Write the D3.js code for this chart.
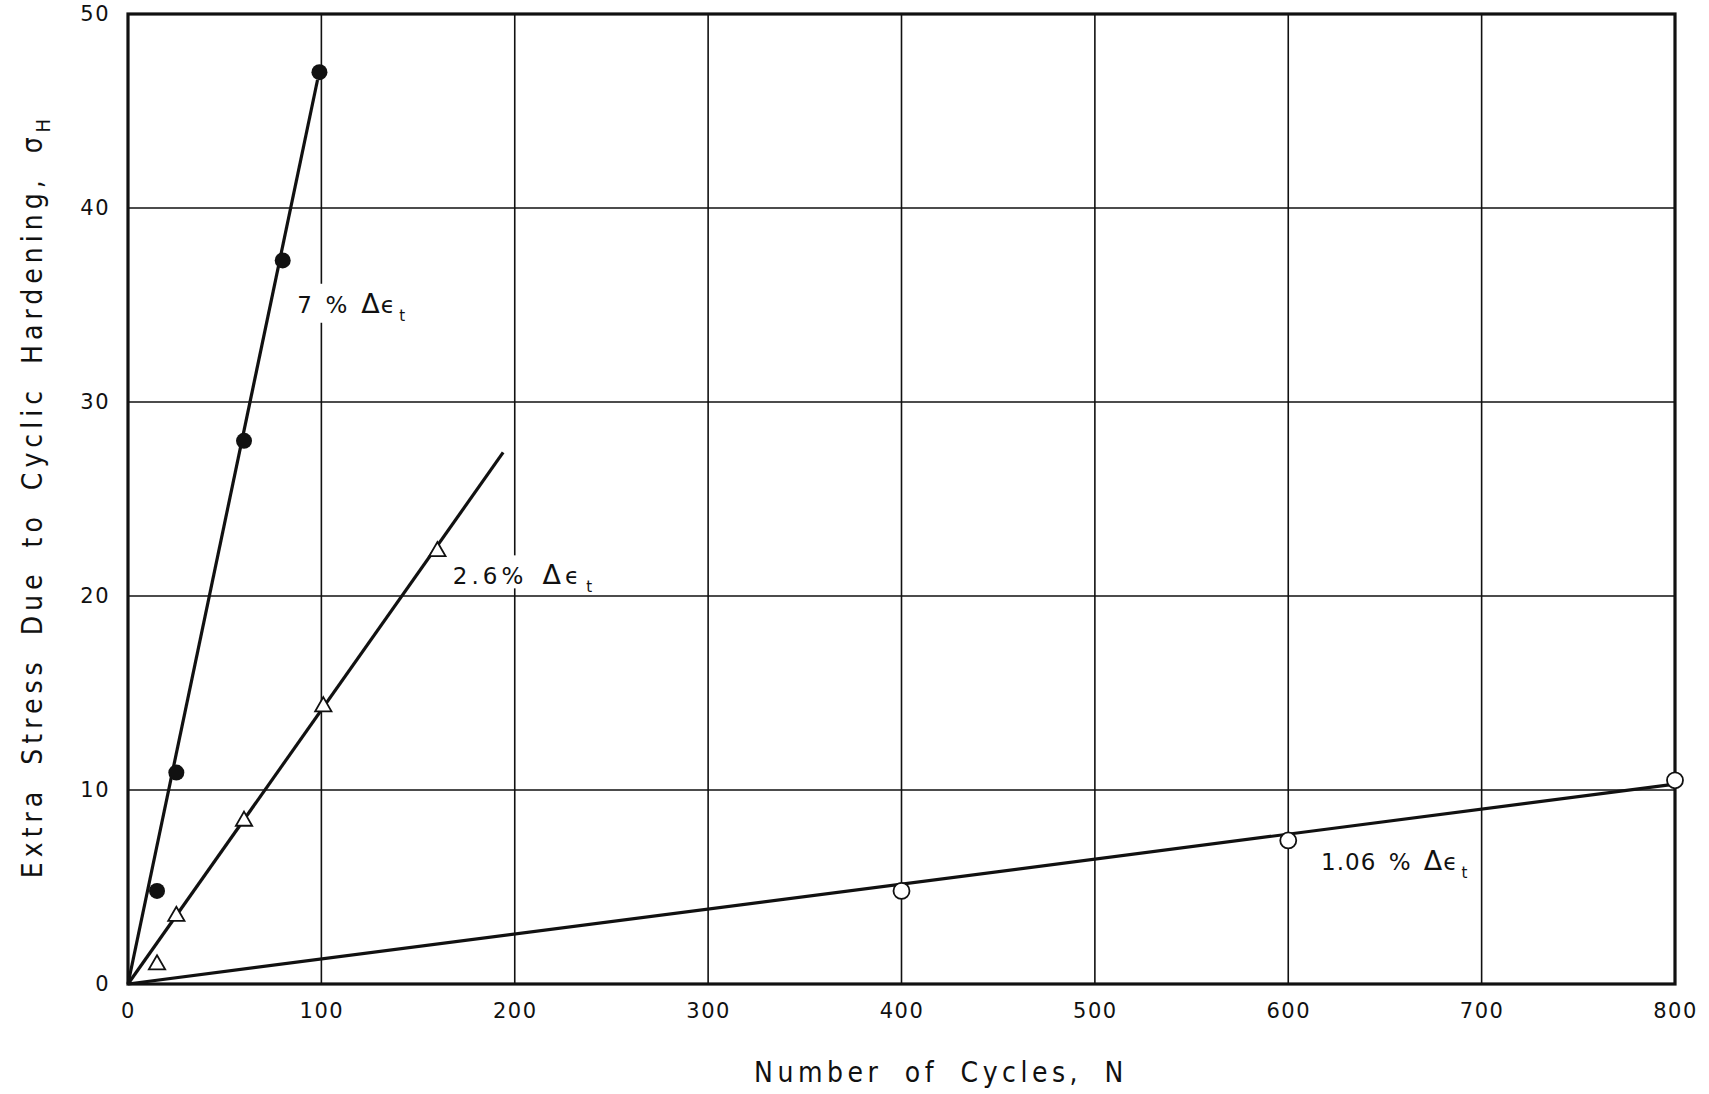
<!DOCTYPE html>
<html>
<head>
<meta charset="utf-8">
<script src="https://cdn.jsdelivr.net/npm/d3@7"></script>
<style>
  html, body { margin: 0; padding: 0; background: #fff; }
  svg { display: block; }
  text { font-family: "DejaVu Sans", sans-serif; fill: #111; }
  .title { font-family: "DejaVu Sans Condensed", "DejaVu Sans", sans-serif; font-stretch: condensed; }
</style>
</head>
<body>
<svg id="chart" width="1709" height="1094"></svg>
<script>
// Cyclic hardening data: extra stress vs number of cycles for three strain ranges
const xTicks = [0, 100, 200, 300, 400, 500, 600, 700, 800];
const yTicks = [0, 10, 20, 30, 40, 50];

const cycles7 = [15, 25, 60, 80, 99];
const stress7 = [4.8, 10.9, 28.0, 37.3, 47.0];
const fit7 = [[0, 0], [98, 46.6]];

const cycles26 = [15, 25, 60, 101, 160];
const stress26 = [1.0, 3.5, 8.4, 14.3, 22.3];
const fit26 = [[0, 0], [194, 27.4]];

const cycles106 = [400, 600, 800];
const stress106 = [4.8, 7.4, 10.5];
const fit106 = [[0, 0], [800, 10.3]];

const svg = d3.select("#chart");
const x = d3.scaleLinear().domain([0, 800]).range([128, 1675]);
const y = d3.scaleLinear().domain([0, 50]).range([984, 14]);

// grid
const grid = svg.append("g").attr("stroke", "#111").attr("stroke-width", 1.6);
grid.selectAll(".vg").data(xTicks.slice(1, -1)).join("line")
  .attr("x1", d => x(d)).attr("x2", d => x(d))
  .attr("y1", y(0)).attr("y2", y(50));
grid.selectAll(".hg").data(yTicks.slice(1, -1)).join("line")
  .attr("x1", x(0)).attr("x2", x(800))
  .attr("y1", d => y(d)).attr("y2", d => y(d));

// frame
svg.append("rect")
  .attr("x", x(0)).attr("y", y(50))
  .attr("width", x(800) - x(0)).attr("height", y(0) - y(50))
  .attr("fill", "none").attr("stroke", "#111").attr("stroke-width", 3.2);

// axes
const xAxis = svg.append("g").attr("transform", `translate(0,${y(0)})`)
  .call(d3.axisBottom(x).tickValues(xTicks).tickSize(0).tickPadding(19).tickFormat(d3.format("d")));
xAxis.select(".domain").remove();
xAxis.selectAll("text").attr("font-size", 21).attr("letter-spacing", 1.5)
  .style("font-family", "DejaVu Sans, sans-serif").attr("fill", "#111");

const yAxis = svg.append("g").attr("transform", `translate(${x(0)},0)`)
  .call(d3.axisLeft(y).tickValues(yTicks).tickSize(0).tickPadding(18).tickFormat(d3.format("d")));
yAxis.select(".domain").remove();
yAxis.selectAll("text").attr("font-size", 21).attr("letter-spacing", 1.5)
  .style("font-family", "DejaVu Sans, sans-serif").attr("fill", "#111");

// axis titles
svg.append("text").attr("class", "title")
  .attr("x", 941).attr("y", 1082)
  .attr("text-anchor", "middle").attr("font-size", 28)
  .attr("letter-spacing", 4.5).attr("word-spacing", 10)
  .text("Number of Cycles, N");

const yt = svg.append("text").attr("class", "title")
  .attr("transform", `translate(42,${496}) rotate(-90)`)
  .attr("text-anchor", "middle").attr("font-size", 28)
  .attr("letter-spacing", 5).attr("word-spacing", 9);
yt.append("tspan").text("Extra Stress Due to Cyclic Hardening, σ");
yt.append("tspan").attr("font-size", 20).attr("dy", 8).text("H");

// fit lines
const line = d3.line().x(d => x(d[0])).y(d => y(d[1]));
[fit7, fit26, fit106].forEach(f => {
  svg.append("path").attr("d", line(f))
    .attr("fill", "none").attr("stroke", "#111").attr("stroke-width", 3.2);
});

// curve labels with white backing to break grid lines
function curveLabel(lx, ly, main, ls, padBottom) {
  const g = svg.append("g");
  const t = g.append("text").attr("x", lx).attr("y", ly)
    .attr("font-size", 23).attr("letter-spacing", ls).attr("word-spacing", 4);
  t.append("tspan").text(main + " ");
  t.append("tspan").attr("font-size", 27).text("Δ");
  t.append("tspan").text("ϵ");
  t.append("tspan").attr("font-size", 15).attr("dy", 8).attr("dx", 3).text("t");
  const b = t.node().getBBox();
  g.insert("rect", "text")
    .attr("x", b.x - 4).attr("y", b.y - 4)
    .attr("width", b.width + 8).attr("height", ly + padBottom - (b.y - 4))
    .attr("fill", "#fff");
}
curveLabel(x(87.5), y(34.6), "7 %", 1.2, 10);
curveLabel(x(168), y(20.6), "2.6%", 4, 4);
curveLabel(x(617), y(5.9), "1.06 %", 1, 4);

// markers: 7% filled circles
svg.selectAll(".p7").data(cycles7).join("circle")
  .attr("cx", d => x(d)).attr("cy", (d, i) => y(stress7[i]))
  .attr("r", 8).attr("fill", "#111");

// 2.6% open triangles
const tri = d3.symbol().type(d3.symbolTriangle).size(115);
svg.selectAll(".p26").data(cycles26).join("path")
  .attr("d", tri)
  .attr("transform", (d, i) => `translate(${x(d)},${y(stress26[i])})`)
  .attr("fill", "#fff").attr("stroke", "#111").attr("stroke-width", 1.8);

// 1.06% open circles
svg.selectAll(".p106").data(cycles106).join("circle")
  .attr("cx", d => x(d)).attr("cy", (d, i) => y(stress106[i]))
  .attr("r", 8).attr("fill", "#fff").attr("stroke", "#111").attr("stroke-width", 1.8);
</script>
</body>
</html>
